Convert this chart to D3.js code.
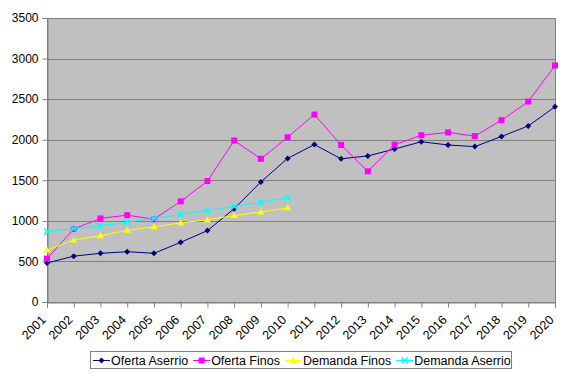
<!DOCTYPE html>
<html>
<head>
<meta charset="utf-8">
<script src="https://cdn.jsdelivr.net/npm/d3@7"></script>
<style>
  body { margin: 0; background: #fff; }
  svg text { font-family: "Liberation Sans", Arial, sans-serif; fill: #000; }
</style>
</head>
<body>
<script>
var years = ['2001','2002','2003','2004','2005','2006','2007','2008','2009','2010',
             '2011','2012','2013','2014','2015','2016','2017','2018','2019','2020'];

var ofertaAserrio = [480, 565, 600, 620, 600, 735, 880, 1150, 1480, 1770,
                     1940, 1765, 1800, 1885, 1975, 1935, 1915, 2040, 2170, 2405];
var ofertaFinos = [535, 900, 1030, 1070, 1020, 1240, 1490, 1990, 1765, 2030,
                   2310, 1935, 1610, 1940, 2055, 2090, 2045, 2240, 2470, 2915];
var demandaFinos = [640, 765, 815, 885, 925, 975, 1015, 1065, 1110, 1160];
var demandaAserrio = [865, 905, 940, 985, 1030, 1080, 1125, 1180, 1230, 1285];

var yTicks = [0, 500, 1000, 1500, 2000, 2500, 3000, 3500];

var series = [
  {name: 'Oferta Aserrio', values: ofertaAserrio, color: '#000080', marker: 'diamond'},
  {name: 'Oferta Finos', values: ofertaFinos, color: '#ff00ff', marker: 'square'},
  {name: 'Demanda Finos', values: demandaFinos, color: '#ffff00', marker: 'triangle'},
  {name: 'Demanda Aserrio', values: demandaAserrio, color: '#00ffff', marker: 'x'}
];

var w = 563, h = 373;
var plotLeft = 47, plotRight = 555, plotTop = 18, plotBottom = 302;

var svg = d3.select('body').append('svg')
  .attr('width', w)
  .attr('height', h);

var xScale = d3.scalePoint().domain(years).range([plotLeft, plotRight]);
var yScale = d3.scaleLinear().domain([0, 3500]).range([plotBottom, plotTop]);

svg.append('rect')
  .attr('x', plotLeft + 0.5).attr('y', plotTop + 0.5)
  .attr('width', plotRight - plotLeft).attr('height', plotBottom - plotTop)
  .attr('fill', '#c0c0c0')
  .attr('stroke', '#808080')
  .attr('stroke-width', 1);

// gridlines
svg.append('g').selectAll('line')
  .data(yTicks.slice(1))
  .enter().append('line')
  .attr('x1', plotLeft).attr('x2', plotRight)
  .attr('y1', function(d){ return Math.round(yScale(d)) + 0.5; })
  .attr('y2', function(d){ return Math.round(yScale(d)) + 0.5; })
  .attr('stroke', '#808080');

var yAxis = d3.axisLeft(yScale).tickValues(yTicks).tickFormat(d3.format('d')).tickSize(5).tickPadding(4);
var gy = svg.append('g')
  .attr('transform', 'translate(' + (plotLeft + 0.5) + ',0)')
  .call(yAxis);
gy.select('.domain').attr('stroke', '#808080');
gy.selectAll('.tick line').attr('stroke', '#808080');
gy.selectAll('text')
  .attr('font-size', '12px')
  .style('font-family', '"Liberation Sans", Arial, sans-serif');

var xAxis = d3.axisBottom(xScale).tickSize(5).tickPadding(2);
var gx = svg.append('g')
  .attr('transform', 'translate(0,' + (plotBottom + 0.5) + ')')
  .call(xAxis);
gx.select('.domain').attr('stroke', '#808080');
gx.selectAll('.tick line').attr('stroke', '#808080');
gx.selectAll('text')
  .attr('font-size', '12.5px')
  .style('font-family', '"Liberation Sans", Arial, sans-serif')
  .attr('text-anchor', 'end')
  .attr('x', 0).attr('y', 0)
  .attr('dy', '0.35em')
  .attr('transform', 'translate(-4,15) rotate(-45)');

var line = d3.line()
  .x(function(d, i){ return xScale(years[i]); })
  .y(function(d){ return yScale(d); });

function drawMarker(g, type, color, x, y) {
  if (type === 'diamond') {
    g.append('path')
      .attr('d', 'M' + x + ',' + (y - 3) + 'L' + (x + 3) + ',' + y + 'L' + x + ',' + (y + 3) + 'L' + (x - 3) + ',' + y + 'Z')
      .attr('fill', color);
  } else if (type === 'square') {
    g.append('rect')
      .attr('x', x - 3).attr('y', y - 3).attr('width', 6).attr('height', 6)
      .attr('fill', color);
  } else if (type === 'triangle') {
    g.append('path')
      .attr('d', 'M' + x + ',' + (y - 3.5) + 'L' + (x + 3.5) + ',' + (y + 2.5) + 'L' + (x - 3.5) + ',' + (y + 2.5) + 'Z')
      .attr('fill', color);
  } else {
    g.append('path')
      .attr('d', 'M' + (x - 3) + ',' + (y - 3) + 'L' + (x + 3) + ',' + (y + 3) + 'M' + (x + 3) + ',' + (y - 3) + 'L' + (x - 3) + ',' + (y + 3))
      .attr('stroke', color).attr('stroke-width', 1.5).attr('fill', 'none');
  }
}

series.forEach(function(s){
  var g = svg.append('g');
  g.append('path')
    .datum(s.values)
    .attr('d', line)
    .attr('fill', 'none')
    .attr('stroke', s.color)
    .attr('stroke-width', 1);
  s.values.forEach(function(v, i){
    drawMarker(g, s.marker, s.color, xScale(years[i]), yScale(v));
  });
});

// legend
var legend = svg.append('g');
legend.append('rect')
  .attr('x', 90.5).attr('y', 351.5)
  .attr('width', 421).attr('height', 17)
  .attr('fill', '#fff')
  .attr('stroke', '#808080');

var pos = 93;
series.forEach(function(s){
  var lg = legend.append('g');
  lg.append('line')
    .attr('x1', pos).attr('x2', pos + 17)
    .attr('y1', 360.5).attr('y2', 360.5)
    .attr('stroke', s.color);
  drawMarker(lg, s.marker, s.color, pos + 8.5, 360.5);
  var t = lg.append('text')
    .attr('x', pos + 18).attr('y', 365)
    .attr('font-size', '12.5px')
    .text(s.name);
  pos += 18 + t.node().getComputedTextLength() + 5;
});
</script>
</body>
</html>
